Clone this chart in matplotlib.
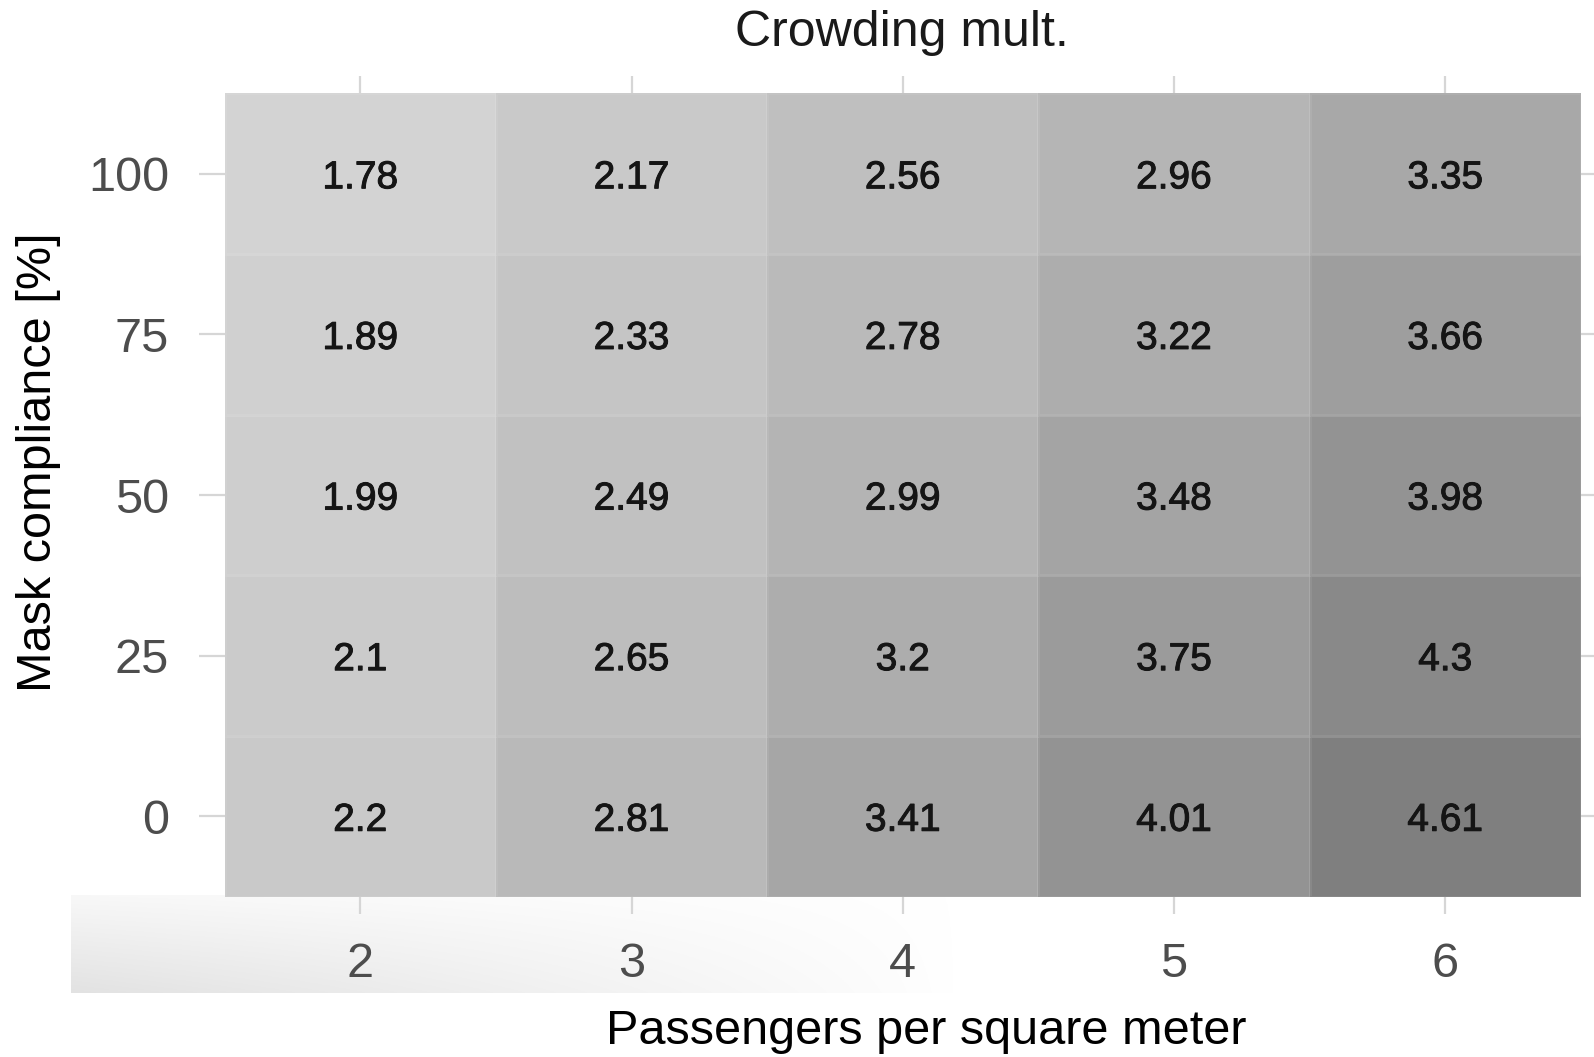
import numpy as np
import matplotlib
matplotlib.use("Agg")
import matplotlib.pyplot as plt
import matplotlib.patheffects as pe
from matplotlib.colors import LinearSegmentedColormap
from matplotlib.transforms import offset_copy

# Crowding multiplier grid
passengers = [2, 3, 4, 5, 6]
compliance = [0, 25, 50, 75, 100]
crowding = [
    [2.2, 2.81, 3.41, 4.01, 4.61],   # 0 %
    [2.1, 2.65, 3.2, 3.75, 4.3],     # 25 %
    [1.99, 2.49, 2.99, 3.48, 3.98],  # 50 %
    [1.89, 2.33, 2.78, 3.22, 3.66],  # 75 %
    [1.78, 2.17, 2.56, 2.96, 3.35],  # 100 %
]

plt.rcParams['font.family'] = ['Liberation Sans', 'DejaVu Sans']

vals = np.array(crowding)
vmin, vmax = vals.min(), vals.max()

# grey ramp, darkening faster toward the high end
def stop(v):
    return (v - vmin) / (vmax - vmin)

cmap = LinearSegmentedColormap.from_list(
    'greys_fill',
    [(0.0, '#d3d3d3'), (stop(3.0), '#b4b4b4'), (stop(4.0), '#939393'), (1.0, '#7f7f7f')],
)

fig = plt.figure(figsize=(15.94, 10.57), dpi=100)

# soft grey band behind the x tick labels
band = fig.add_axes([71 / 1594, 1 - 993 / 1057, (956 - 71) / 1594, (993 - 895) / 1057], zorder=0)
h, w = 60, 400
xx = np.linspace(0, 1, w)[None, :]
yy = np.linspace(0, 1, h)[:, None]
alpha = np.clip(1 - xx, 0, 1) ** 0.9 * (0.25 + 0.75 * yy)
rgba = np.zeros((h, w, 4))
rgba[..., :3] = 0.86
rgba[..., 3] = alpha * 0.8
band.imshow(rgba, aspect='auto', origin='upper', extent=[0, 1, 0, 1])
band.axis('off')

ax = fig.add_axes([224.7 / 1594, 1 - 896.6 / 1057, (1580.8 - 224.7) / 1594, (896.6 - 93.5) / 1057], zorder=1)
ax.pcolormesh(np.arange(len(passengers) + 1), np.arange(len(compliance) + 1), vals,
              cmap=cmap, vmin=vmin, vmax=vmax,
              edgecolor=(1, 1, 1, 0.07), linewidth=1)

# cell labels, nudged a few pixels down
lbl_tr = offset_copy(ax.transData, fig=fig, x=0, y=-4.5, units='dots')
for i in range(len(compliance)):
    for j in range(len(passengers)):
        ax.text(j + 0.5, i + 0.5, f"{vals[i, j]:g}", ha='center', va='center',
                fontsize=28, color='#151515', transform=lbl_tr,
                path_effects=[pe.withStroke(linewidth=0.7, foreground='#151515')])

ax.set_xlim(0, len(passengers))
ax.set_ylim(0, len(compliance))
ax.set_xticks(np.arange(len(passengers)) + 0.5)
ax.set_xticklabels([str(p) for p in passengers])
ax.set_yticks(np.arange(len(compliance)) + 0.5)
ax.set_yticklabels([str(c) for c in compliance])

for s in ax.spines.values():
    s.set_visible(False)

ax.tick_params(axis='x', which='both', top=True, bottom=True, labeltop=False,
               length=12.5, width=1.6, color='#d6d6d6', pad=20,
               labelsize=35, labelcolor='#4d4d4d')
ax.tick_params(axis='y', which='both', left=True, right=True, labelright=False,
               length=19, width=1.6, color='#d6d6d6', pad=21,
               labelsize=35, labelcolor='#4d4d4d')

fig.text(902 / 1594, 1 - 33 / 1057, 'Crowding mult.', ha='center', va='center',
         fontsize=36, color='#1a1a1a')
fig.text(39 / 1594, 1 - 462 / 1057, 'Mask compliance [%]', ha='center', va='center',
         rotation=90, fontsize=35, color='black')
fig.text(926 / 1594, 1 - 1031 / 1057, 'Passengers per square meter', ha='center', va='center',
         fontsize=35, color='black')

fig.savefig('out.png', dpi=100, facecolor='white')
